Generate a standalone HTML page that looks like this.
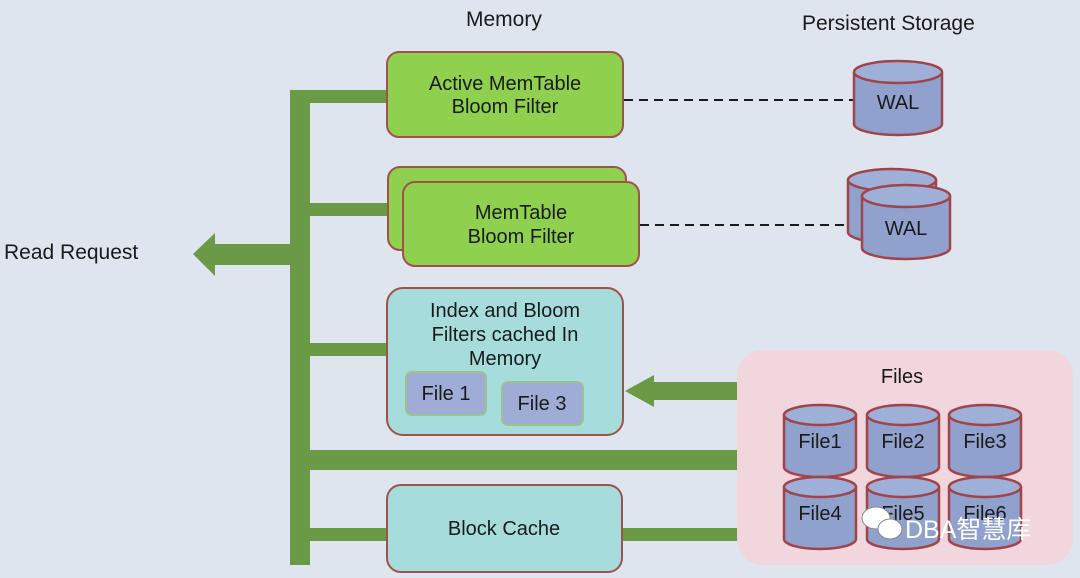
<!DOCTYPE html>
<html><head><meta charset="utf-8"><style>body{margin:0;background:#dfe5ee}svg{display:block}text{font-family:"Liberation Sans","Noto Sans CJK SC",sans-serif;fill:#1a1a1a}</style></head><body>
<svg width="1080" height="578" viewBox="0 0 1080 578">
<rect width="1080" height="578" fill="#dfe5ee"/>
<text x="466" y="26" font-size="21">Memory</text>
<text x="802" y="30" font-size="21">Persistent Storage</text>
<text x="4" y="259" font-size="21">Read Request</text>
<g fill="#6b9a47">
<rect x="290" y="90" width="20" height="475"/>
<rect x="290" y="90" width="98" height="13"/>
<rect x="290" y="203" width="100" height="13"/>
<rect x="290" y="343" width="98" height="13"/>
<rect x="290" y="450" width="448" height="20"/>
<rect x="290" y="528" width="98" height="13"/>
<rect x="622" y="528" width="116" height="13"/>
<rect x="213" y="244" width="78" height="21"/>
<polygon points="193,254 215,233 215,276"/>
<rect x="652" y="382" width="86" height="18"/>
<polygon points="625,391 654,375 654,407"/>
</g>
<g stroke="#1a1a1a" stroke-width="2" stroke-dasharray="9,6">
<line x1="624" y1="100" x2="855" y2="100"/>
<line x1="640" y1="225" x2="863" y2="225"/>
</g>
<g stroke="#a0524a" stroke-width="2">
<rect x="387" y="52" width="236" height="85" rx="12" fill="#8fd14f"/>
<rect x="388" y="167" width="238" height="83" rx="12" fill="#8fd14f"/>
<rect x="403" y="182" width="236" height="84" rx="12" fill="#8fd14f"/>
<rect x="387" y="288" width="236" height="147" rx="16" fill="#a6dcdc"/>
<rect x="387" y="485" width="235" height="87" rx="14" fill="#a6dcdc"/>
</g>
<rect x="737" y="350" width="336" height="215" rx="26" fill="#f2d6dd"/>
<g stroke="#9cc48a" stroke-width="2" fill="#9fadd6">
<rect x="406" y="372" width="80" height="43" rx="6"/>
<rect x="502" y="382" width="81" height="43" rx="6"/>
</g>
<g font-size="20" text-anchor="middle">
<text x="505" y="90">Active MemTable</text>
<text x="505" y="113">Bloom Filter</text>
<text x="521" y="219">MemTable</text>
<text x="521" y="243">Bloom Filter</text>
<text x="505" y="317">Index and Bloom</text>
<text x="505" y="341">Filters cached In</text>
<text x="505" y="365">Memory</text>
<text x="446" y="400">File 1</text>
<text x="542" y="410">File 3</text>
<text x="504" y="535">Block Cache</text>
<text x="902" y="383">Files</text>
</g>
<defs>
<g id="cyl">
<path d="M-36,-26 L-36,26 A36,10 0 0 0 36,26 L36,-26" fill="#8fa1cc" stroke="#a0444a" stroke-width="2.5"/>
<ellipse cx="0" cy="-26" rx="36" ry="10" fill="#9fb0d8" stroke="#a0444a" stroke-width="2.5"/>
</g>
<g id="wcyl">
<path d="M-44,-26 L-44,26 A44,11 0 0 0 44,26 L44,-26" fill="#8fa1cc" stroke="#a0444a" stroke-width="2.5"/>
<ellipse cx="0" cy="-26" rx="44" ry="11" fill="#9fb0d8" stroke="#a0444a" stroke-width="2.5"/>
</g>
</defs>
<use href="#wcyl" x="898" y="98"/>
<use href="#wcyl" x="892" y="206"/>
<use href="#wcyl" x="906" y="222"/>
<use href="#cyl" x="820" y="441"/>
<use href="#cyl" x="903" y="441"/>
<use href="#cyl" x="985" y="441"/>
<use href="#cyl" x="820" y="513"/>
<use href="#cyl" x="903" y="513"/>
<use href="#cyl" x="985" y="513"/>
<g font-size="20" text-anchor="middle">
<text x="898" y="109">WAL</text>
<text x="906" y="235">WAL</text>
<text x="820" y="448">File1</text>
<text x="903" y="448">File2</text>
<text x="985" y="448">File3</text>
<text x="820" y="520">File4</text>
<text x="903" y="520">File5</text>
<text x="985" y="520">File6</text>
</g>
<g fill="#fff" stroke="#888" stroke-width="1">
<ellipse cx="876" cy="518" rx="14" ry="11"/>
<ellipse cx="890" cy="529" rx="12" ry="10"/>
</g>
<text x="905" y="538" font-size="25" style="fill:#fff">DBA智慧库</text>
</svg>
</body></html>
